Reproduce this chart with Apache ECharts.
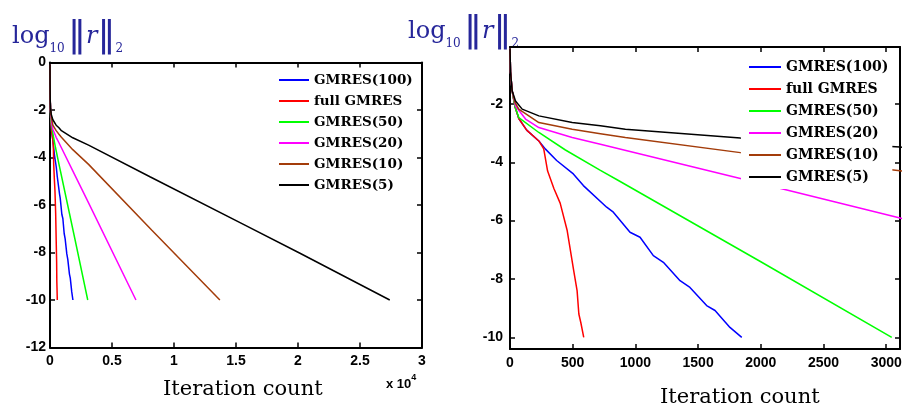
<!DOCTYPE html>
<html>
<head>
<meta charset="utf-8">
<script src="https://cdn.jsdelivr.net/npm/echarts@6/dist/echarts.min.js"></script>
<style>
  html, body { margin: 0; padding: 0; background: #fff; }
  #main { width: 907px; height: 411px; }
</style>
</head>
<body>
<div id="main"></div>
<script>
// series names, legend order
var names = ['GMRES(100)', 'full GMRES', 'GMRES(50)', 'GMRES(20)', 'GMRES(10)', 'GMRES(5)'];
var colors = ['#0000ff', '#ff0000', '#00ff00', '#ff00ff', '#a33c0a', '#000000'];

// [iteration, log10 residual]
var gmres100 = [[0,-0.1],[4,-0.9],[17,-1.55],[40,-2.1],[70,-2.5],[133,-2.9],[230,-3.27],[283,-3.55],[372,-3.94],[505,-4.4],[585,-4.8],[771,-5.54],[824,-5.71],[957,-6.4],[1037,-6.57],[1143,-7.2],[1223,-7.43],[1356,-8.06],[1435,-8.29],[1568,-8.91],[1635,-9.08],[1754,-9.66],[1848,-10]];
var fullGmres = [[0,-0.1],[4,-0.9],[17,-1.55],[40,-2.1],[70,-2.5],[133,-2.9],[230,-3.27],[269,-3.54],[300,-4.3],[350,-4.9],[400,-5.4],[456,-6.34],[508,-7.71],[535,-8.4],[549,-9.2],[565,-9.5],[588,-10]];
var gmres50 = [[0,-0.1],[4,-0.9],[17,-1.55],[40,-2.1],[70,-2.47],[230,-2.98],[442,-3.58],[721,-4.28],[854,-4.6],[2000,-7.41],[3044,-10]];
var gmres20 = [[0,-0.1],[4,-0.9],[17,-1.55],[44,-2.07],[124,-2.52],[230,-2.81],[496,-3.15],[721,-3.38],[1837,-4.56],[3110,-5.91],[6930,-10]];
var gmres10 = [[0,-0.1],[4,-0.9],[17,-1.55],[40,-1.95],[70,-2.18],[230,-2.64],[496,-2.87],[721,-3.02],[920,-3.15],[1837,-3.67],[3110,-4.29],[8195,-7.05],[13700,-10]];
var gmres5 = [[0,-0.1],[4,-0.9],[17,-1.55],[44,-1.9],[97,-2.18],[230,-2.41],[496,-2.64],[721,-2.75],[920,-2.87],[1837,-3.17],[3110,-3.48],[8060,-4.81],[15720,-6.85],[20160,-8.03],[27400,-10]];
var allData = [gmres100, fullGmres, gmres50, gmres20, gmres10, gmres5];

var tickFont = { color: '#000', fontFamily: 'Liberation Sans', fontWeight: 'bold', fontSize: 14 };
var legendFont = { color: '#000', fontFamily: 'DejaVu Serif', fontWeight: 'bold' };
var titleColor = '#26269a';

function axisBase(extra) {
    var a = {
        type: 'value',
        axisLine: { show: true, onZero: false, lineStyle: { color: '#000', width: 2 } },
        axisTick: { show: true, inside: true, length: 5, lineStyle: { color: '#000', width: 1.5 } },
        splitLine: { show: false }
    };
    for (var k in extra) a[k] = extra[k];
    return a;
}

var xAxes = [
    // left plot
    axisBase({ gridIndex: 0, position: 'bottom', min: 0, max: 30000, interval: 5000,
        axisLabel: Object.assign({ margin: 7, formatter: function (v) { return v / 10000; } }, tickFont) }),
    axisBase({ gridIndex: 0, position: 'top', min: 0, max: 30000, interval: 5000, axisLabel: { show: false } }),
    // right plot
    axisBase({ gridIndex: 1, position: 'bottom', min: 0, max: 3110, interval: 500,
        axisLabel: Object.assign({ margin: 7, showMaxLabel: false, formatter: function (v) { return v % 500 === 0 ? v : ''; } }, tickFont) }),
    axisBase({ gridIndex: 1, position: 'top', min: 0, max: 3110, interval: 500, axisLabel: { show: false } })
];
var yAxes = [
    axisBase({ gridIndex: 0, position: 'left', min: -12, max: 0, interval: 2,
        axisLabel: Object.assign({ margin: 4 }, tickFont) }),
    axisBase({ gridIndex: 0, position: 'right', min: -12, max: 0, interval: 2, axisLabel: { show: false } }),
    axisBase({ gridIndex: 1, position: 'left', min: -10.4, max: -0.05, splitNumber: 5,
        axisLabel: Object.assign({ margin: 7, formatter: function (v) { return (Math.abs(v % 2) < 1e-9 && v !== 0) ? v : ''; } }, tickFont) }),
    axisBase({ gridIndex: 1, position: 'right', min: -10.4, max: -0.05, splitNumber: 5, axisLabel: { show: false } })
];

var series = [];
for (var p = 0; p < 2; p++) {
    for (var i = 0; i < names.length; i++) {
        series.push({
            name: names[i],
            type: 'line',
            xAxisIndex: p * 2,
            yAxisIndex: p * 2,
            data: allData[i],
            symbol: 'none',
            clip: true,
            lineStyle: { width: 1.5, color: colors[i] },
            itemStyle: { color: colors[i] }
        });
    }
}

function yTitle(left, top) {
    return {
        type: 'text', left: left, top: top,
        style: {
            text: '{a|log}{s|10} {b|‖}{r|r}{b|‖}{s|2}',
            fill: titleColor,
            rich: {
                a: { fontFamily: 'DejaVu Serif', fontSize: 24, fill: titleColor, verticalAlign: 'middle', lineHeight: 36 },
                s: { fontFamily: 'DejaVu Serif', fontSize: 12, fill: titleColor, verticalAlign: 'bottom', lineHeight: 14 },
                b: { fontFamily: 'DejaVu Sans', fontSize: 36, fill: titleColor, verticalAlign: 'middle', lineHeight: 36 },
                r: { fontFamily: 'DejaVu Serif', fontStyle: 'italic', fontSize: 24, fill: titleColor, verticalAlign: 'middle', lineHeight: 36 }
            }
        }
    };
}

var chart = echarts.init(document.getElementById('main'));
chart.setOption({
    animation: false,
    backgroundColor: '#fff',
    grid: [
        { left: 50, right: 485, top: 62.5, bottom: 63.5 },
        { left: 510, right: 7, top: 47, bottom: 62 }
    ],
    xAxis: xAxes,
    yAxis: yAxes,
    legend: [
        {
            data: names, orient: 'vertical', left: 276, top: 73,
            itemWidth: 30, itemHeight: 14, itemGap: 7, padding: [0, 0, 0, 2],
            itemStyle: { opacity: 0 },
            textStyle: Object.assign({ fontSize: 13.5 }, legendFont)
        },
        {
            data: names, orient: 'vertical', left: 741, top: 55,
            itemWidth: 32, itemHeight: 14, itemGap: 8, padding: [5, 4, 5, 7],
            itemStyle: { opacity: 0 },
            backgroundColor: '#fff',
            textStyle: Object.assign({ fontSize: 14 }, legendFont)
        }
    ],
    graphic: [
        yTitle(12, 19),
        yTitle(408, 14),
        { type: 'text', left: 163, top: 379, style: { text: 'Iteration count', font: '21px "DejaVu Serif"', fill: '#000' } },
        { type: 'text', left: 660, top: 387, style: { text: 'Iteration count', font: '21px "DejaVu Serif"', fill: '#000' } },
        { type: 'text', left: 386, top: 373, style: {
            text: '{a|x 10}{b|4}',
            rich: {
                a: { fontFamily: 'Liberation Sans', fontWeight: 'bold', fontSize: 13, fill: '#000', verticalAlign: 'bottom', lineHeight: 18 },
                b: { fontFamily: 'Liberation Sans', fontWeight: 'bold', fontSize: 9, fill: '#000', verticalAlign: 'top', lineHeight: 18 }
            }
        } }
    ],
    series: series
});
</script>
</body>
</html>
